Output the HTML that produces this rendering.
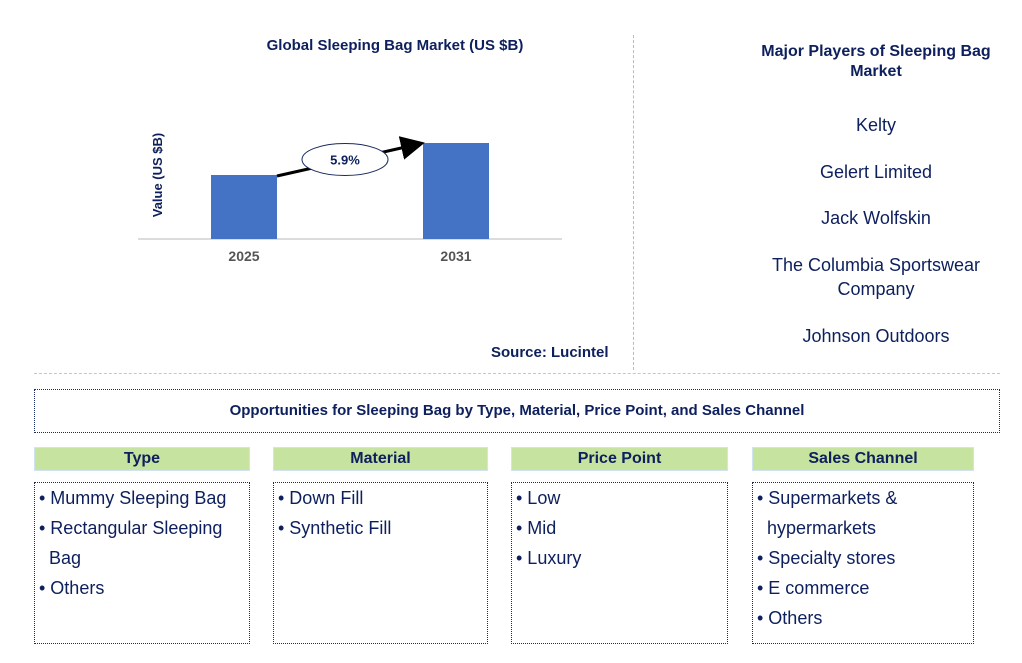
<!DOCTYPE html>
<html><head><meta charset="utf-8">
<style>
body{margin:0;width:1022px;height:663px;background:#fff;position:relative;overflow:hidden;font-family:"Liberation Sans",Arial,sans-serif;color:#0d1f5c}
.a{position:absolute}
.hdr{position:absolute;top:447px;height:22px;background:#c6e3a0;border:1px solid #cfe3f0;font-weight:bold;font-size:16px;text-align:center;line-height:22px}
.box{position:absolute;top:482px;height:162px;border:1.5px dotted #1a2a5e;box-sizing:border-box;font-size:18px;line-height:30px;padding:0 0 0 4px}
.pl{position:absolute;left:740px;width:272px;text-align:center;font-size:18px;line-height:24px}
</style></head><body>
<div class="a" style="left:200px;top:37px;width:390px;text-align:center;font-weight:bold;font-size:15px">Global Sleeping Bag Market (US $B)</div>
<svg class="a" style="left:0;top:0" width="640" height="370">
<text transform="translate(162,175) rotate(-90)" text-anchor="middle" font-size="13" font-weight="bold" fill="#0d1f5c" font-family="Liberation Sans, sans-serif">Value (US $B)</text>
<line x1="138" y1="239" x2="562" y2="239" stroke="#d0d0d0" stroke-width="1.5"/>
<g id="bars"></g>
<defs><marker id="ah" markerWidth="8" markerHeight="8" refX="6" refY="4" orient="auto"><path d="M0,0 L8,4 L0,8 z" fill="#000"/></marker></defs>
<line id="arrow" stroke="#000" stroke-width="3" marker-end="url(#ah)"/>
<ellipse id="ell" rx="43" ry="16" fill="#fff" stroke="#1a2a5e"/>
<text id="cagr" text-anchor="middle" font-size="13" font-weight="bold" fill="#0d1f5c" font-family="Liberation Sans, sans-serif"></text>
</svg>
<script>
const categories=["2025","2031"];
const values=[1.0,1.5];
const cagrLabel="5.9%";
const base=239, scale=64, xc=[244,456], bw=66;
const g=document.getElementById('bars');
const ns="http://www.w3.org/2000/svg";
function y(v){return base-v*scale;}
categories.forEach((c,i)=>{
 const r=document.createElementNS(ns,'rect');
 r.setAttribute('x',xc[i]-bw/2);r.setAttribute('y',y(values[i]));r.setAttribute('width',bw);r.setAttribute('height',base-y(values[i]));r.setAttribute('fill','#4472c4');
 
 
 g.appendChild(r);
 const t=document.createElementNS(ns,'text');
 t.setAttribute('x',xc[i]);t.setAttribute('y',261);t.setAttribute('text-anchor','middle');t.setAttribute('font-size','14');t.setAttribute('font-weight','bold');t.setAttribute('fill','#555');t.setAttribute('font-family','Liberation Sans, sans-serif');
 t.textContent=c;
 
 
 g.appendChild(t);
});
const x1=xc[0]+bw/2,y1=y(values[0])+1,x2=xc[1]-bw/2,y2=y(values[1]);
const a=document.getElementById('arrow');
a.setAttribute('x1',x1);a.setAttribute('y1',y1);a.setAttribute('x2',x2-4);a.setAttribute('y2',y2+1);
const mx=(x1+x2)/2-5,my=(y1+y2)/2;
const e=document.getElementById('ell');e.setAttribute('cx',mx);e.setAttribute('cy',my);
const ct=document.getElementById('cagr');ct.setAttribute('x',mx);ct.setAttribute('y',my+5);ct.textContent=cagrLabel;
</script>
<div class="a" style="left:491px;top:344px;font-weight:bold;font-size:15px">Source: Lucintel</div>
<div class="a" style="left:633px;top:35px;height:335px;border-left:1px dashed #bbb"></div>
<div class="pl" style="top:42px;font-weight:bold;font-size:16px;line-height:20px">Major Players of Sleeping Bag<br>Market</div>
<div class="pl" style="top:113px">Kelty</div>
<div class="pl" style="top:160px">Gelert Limited</div>
<div class="pl" style="top:206px">Jack Wolfskin</div>
<div class="pl" style="top:253px">The Columbia Sportswear<br>Company</div>
<div class="pl" style="top:324px">Johnson Outdoors</div>
<div class="a" style="left:34px;top:373px;width:966px;border-top:1px dashed #f5c842"></div>
<div class="a" style="left:34px;top:389px;width:966px;height:44px;border:1.5px dotted #1a2a5e;box-sizing:border-box;text-align:center;line-height:42px;font-weight:bold;font-size:15px">Opportunities for Sleeping Bag by Type, Material, Price Point, and Sales Channel</div>
<div class="hdr" style="left:34px;width:214px">Type</div>
<div class="hdr" style="left:273px;width:213px">Material</div>
<div class="hdr" style="left:511px;width:215px">Price Point</div>
<div class="hdr" style="left:752px;width:220px">Sales Channel</div>
<div class="box" style="left:34px;width:216px">• Mummy Sleeping Bag<br>• Rectangular Sleeping<br>&nbsp;&nbsp;Bag<br>• Others</div>
<div class="box" style="left:273px;width:215px">• Down Fill<br>• Synthetic Fill</div>
<div class="box" style="left:511px;width:217px">• Low<br>• Mid<br>• Luxury</div>
<div class="box" style="left:752px;width:222px">• Supermarkets &amp;<br>&nbsp;&nbsp;hypermarkets<br>• Specialty stores<br>• E commerce<br>• Others</div>
</body></html>
